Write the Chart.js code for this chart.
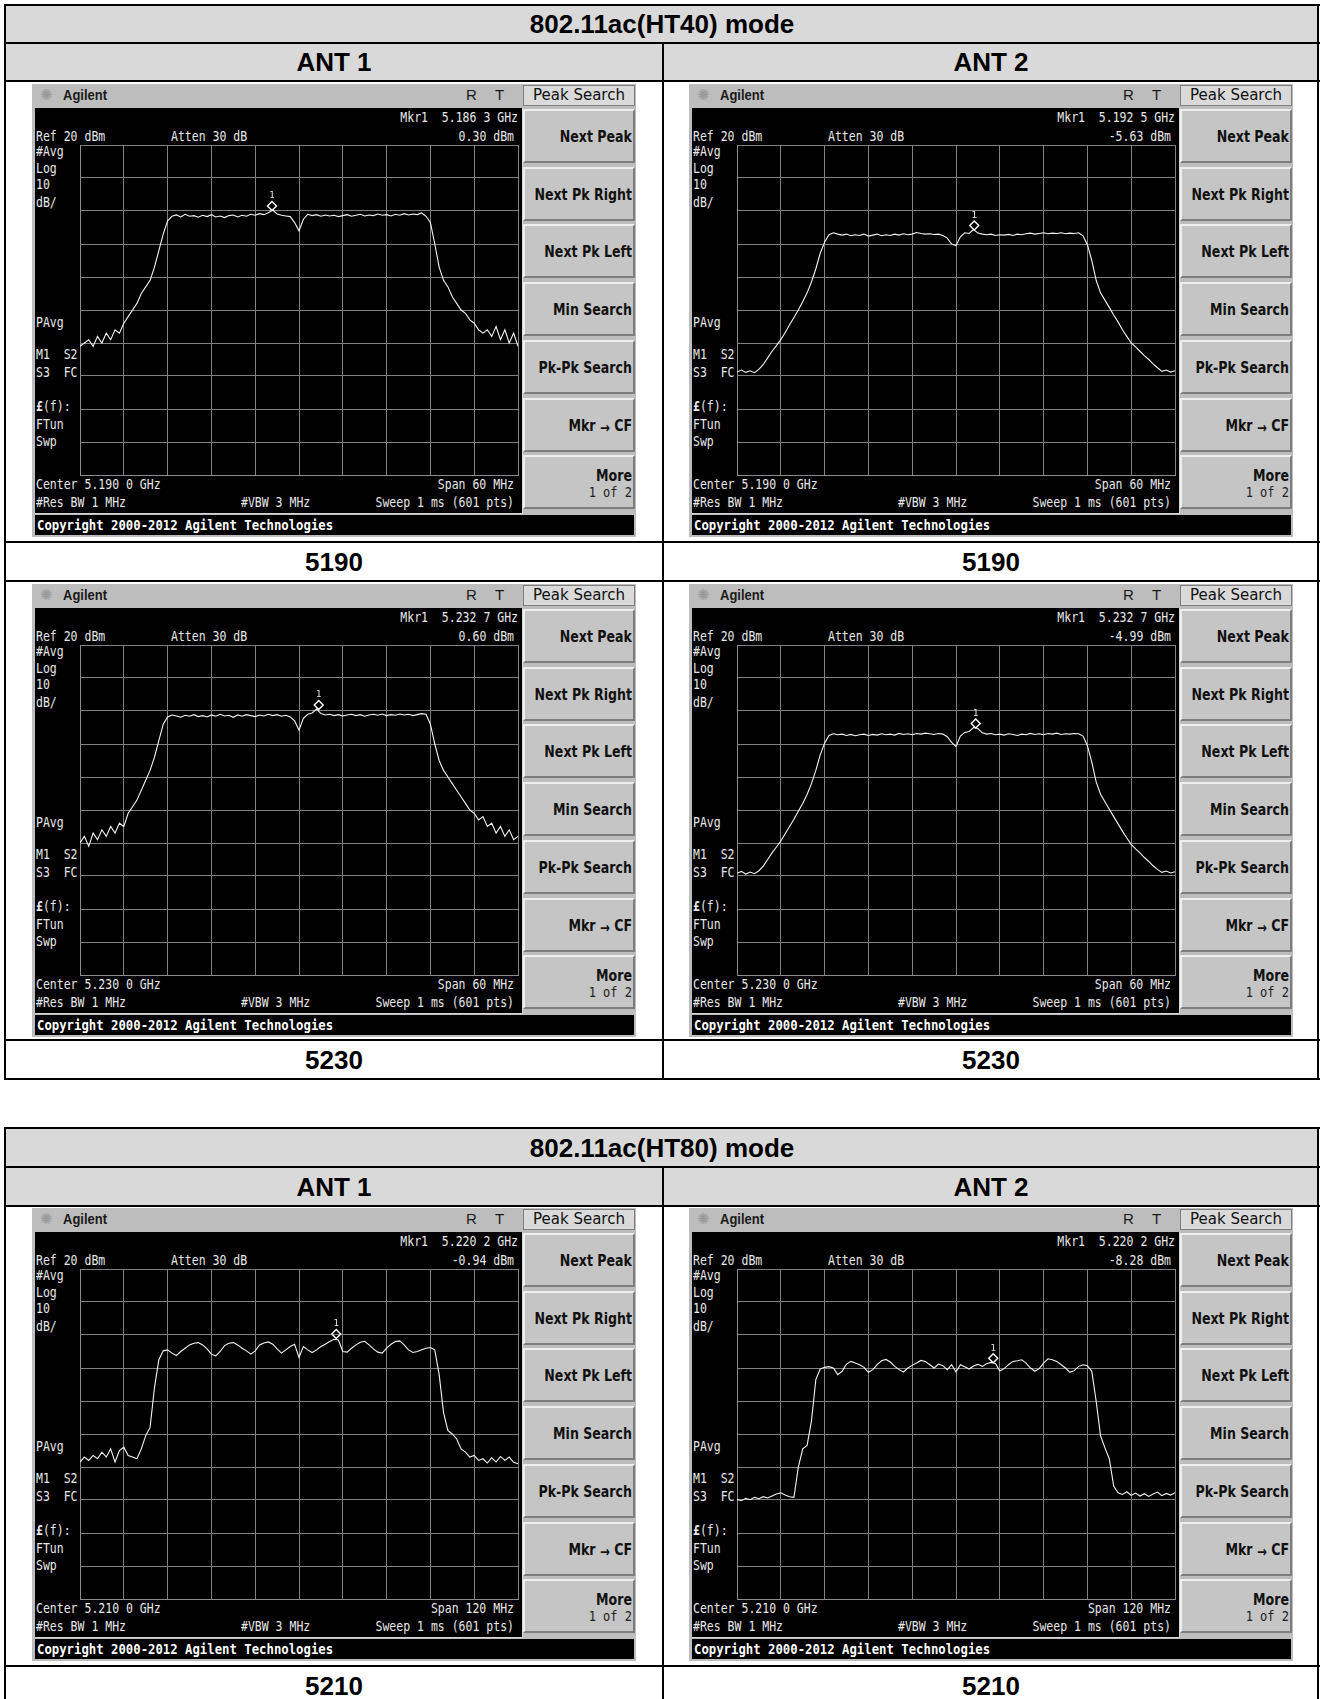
<!DOCTYPE html>
<html><head><meta charset="utf-8">
<script src="https://cdn.jsdelivr.net/npm/chart.js@4.4.1/dist/chart.umd.min.js"></script>
<style>
html,body{margin:0;padding:0;background:#fff;}
#page{position:relative;width:1320px;height:1699px;overflow:hidden;background:#fff;}
.ln{position:absolute;background:#000;}
.hdr{position:absolute;background:#d9d9d9;}
.cap{position:absolute;font:bold 26px "Liberation Sans",Arial,sans-serif;color:#000;text-align:center;line-height:30px;height:30px;white-space:nowrap;}
.shot{position:absolute;width:604px;height:453px;background:#bdbdbd;overflow:hidden;}
.scr{position:absolute;left:3px;top:24px;width:487px;height:405px;background:#000;border-right:1px solid #d6d6d6;border-bottom:1px solid #d6d6d6;}
.m{position:absolute;font:11.5px "DejaVu Sans Mono",monospace;color:#e8e8e8;white-space:pre;line-height:14px;height:14px;transform:scaleY(1.28);}
.ttl{position:absolute;font:bold 13px "Liberation Sans",Arial,sans-serif;color:#1a1a1a;line-height:14px;white-space:nowrap;transform:scaleY(1.1);}
.rt{position:absolute;font:15px "Liberation Sans",Arial,sans-serif;color:#1a1a1a;line-height:16px;}
.icon{position:absolute;font:15px "DejaVu Sans",sans-serif;color:#9a9a9a;line-height:16px;}
.pk{position:absolute;left:491px;top:1px;width:112px;height:21px;box-sizing:border-box;background:#dadada;border:1px solid #7e7e7e;font:15px "DejaVu Sans",sans-serif;color:#111;text-align:center;line-height:19px;white-space:nowrap;}
.sk{position:absolute;left:491px;width:112px;height:54px;box-sizing:border-box;background:#c5c5c5;border-top:2px solid #eeeeee;border-left:2px solid #eeeeee;border-bottom:2px solid #7d7d7d;border-right:2px solid #7d7d7d;}
.skt{position:absolute;right:1px;font:bold 14px "DejaVu Sans Condensed","DejaVu Sans",sans-serif;font-stretch:condensed;color:#111;white-space:nowrap;line-height:16px;transform:scaleY(1.15);transform-origin:right center;}
.sks{position:absolute;right:1px;font:12px "DejaVu Sans Mono",monospace;color:#222;white-space:nowrap;line-height:14px;transform:scaleY(1.15);}
.copy{position:absolute;left:3px;top:431px;width:599px;height:20px;background:#000;box-sizing:border-box;}
.copy span{position:absolute;left:2px;top:3px;color:#fff;font:bold 12.3px "DejaVu Sans Mono",monospace;line-height:14px;white-space:pre;transform:scaleY(1.2);}
canvas.cv{position:absolute;left:47px;top:60px;}
</style>
</head><body><div id="page"></div>
<script>
// ---------------- data ----------------
const MODE_TITLES = ["802.11ac(HT40) mode", "802.11ac(HT80) mode"];
const ANT_LABELS = ["ANT 1", "ANT 2"];
const ROW_LABELS = ["5190", "5230", "5210"];
const SOFTKEYS = ["Next Peak", "Next Pk Right", "Next Pk Left", "Min Search", "Pk-Pk Search", "Mkr → CF", "More"];

const CENTERS_MHZ = [5190, 5190, 5230, 5230, 5210, 5210];
const SPANS_MHZ = [60, 60, 60, 60, 120, 120];
const MARKER_FREQ_MHZ = [5186.3, 5192.5, 5232.7, 5232.7, 5220.2, 5220.2];
const MARKER_LEVEL_DBM = [0.30, -5.63, 0.60, -4.99, -0.94, -8.28];
const MARKER_FREQ_TEXT = ["5.186 3 GHz", "5.192 5 GHz", "5.232 7 GHz", "5.232 7 GHz", "5.220 2 GHz", "5.220 2 GHz"];
const MARKER_LEVEL_TEXT = ["0.30 dBm", "-5.63 dBm", "0.60 dBm", "-4.99 dBm", "-0.94 dBm", "-8.28 dBm"];
const CENTER_TEXT = ["Center 5.190 0 GHz", "Center 5.190 0 GHz", "Center 5.230 0 GHz", "Center 5.230 0 GHz", "Center 5.210 0 GHz", "Center 5.210 0 GHz"];
const SPAN_TEXT = ["Span 60 MHz", "Span 60 MHz", "Span 60 MHz", "Span 60 MHz", "Span 120 MHz", "Span 120 MHz"];
const REF_LEVEL_DBM = 20;
const DB_PER_DIV = 10;

// trace levels (dBm), 101 sweep points read across the 10 divisions
const TRACE_HT40_ANT1_5190 = [
 -41,-40,-39,-41,-38,-40,-37,-39,-36,-37,
 -34,-32,-30,-28,-25,-23,-21,-17,-12,-7,
 -3,-1.6,-1.2,-1.8,-1.0,-1.6,-1.4,-1.9,-1.3,-1.7,
 -1.1,-1.8,-1.5,-2.0,-1.4,-1.2,-1.8,-1.3,-1.6,-1.0,
 -1.3,-0.8,-1.1,-0.5,0.3,-0.9,-1.3,-1.5,-1.7,-3.5,
 -6.0,-2.5,-1.0,-1.4,-1.1,-1.6,-1.2,-1.5,-1.3,-1.7,
 -1.4,-1.1,-1.6,-1.3,-1.0,-1.5,-1.2,-1.4,-0.9,-1.3,
 -1.1,-1.5,-1.0,-1.3,-0.8,-1.2,-0.9,-1.1,-0.6,-1.6,
 -3.5,-10,-17,-21,-23,-26,-28,-30,-31,-33,
 -34,-36,-37,-36,-38,-35,-39,-36,-40,-37,
 -41];
const TRACE_HT40_ANT2_5190 = [
 -48.8,-48.2,-48.9,-48.4,-49.0,-48.0,-46.5,-44.5,-42.5,-40.8,
 -39.0,-36.8,-34.5,-32.3,-30.0,-27.5,-24.8,-21.5,-17.5,-12.8,
 -9.5,-7.2,-6.6,-7.0,-7.3,-7.0,-7.5,-7.2,-7.4,-7.0,
 -7.6,-7.3,-7.0,-7.5,-7.2,-7.4,-7.0,-7.3,-6.9,-7.2,
 -7.0,-6.5,-6.8,-7.0,-6.9,-7.1,-7.0,-7.4,-8.2,-10.0,
 -10.5,-7.8,-6.6,-6.8,-5.63,-6.7,-7.0,-7.2,-7.0,-7.4,
 -7.2,-7.3,-7.1,-7.4,-7.0,-7.2,-6.9,-6.7,-7.0,-6.8,
 -6.6,-6.9,-6.7,-6.8,-6.6,-6.9,-6.7,-6.8,-6.6,-7.5,
 -10.2,-15.0,-21.0,-24.8,-27.0,-29.2,-31.5,-33.6,-36.0,-38.0,
 -40.0,-41.2,-42.5,-43.8,-45.0,-46.3,-47.5,-48.6,-48.2,-48.8,
 -48.4];
const TRACE_HT40_ANT1_5230 = [
 -40,-38,-41,-37,-39,-36,-38,-35,-37,-34,
 -35,-31,-29,-27,-24,-21,-18,-14,-9,-4,
 -1.8,-1.2,-1.5,-1.9,-1.3,-1.6,-1.1,-1.7,-1.4,-1.8,
 -1.2,-1.6,-1.0,-1.5,-1.3,-1.9,-1.2,-1.6,-1.1,-1.4,
 -1.7,-1.2,-1.5,-1.0,-1.4,-1.1,-1.6,-1.3,-1.8,-3.0,
 -5.8,-2.2,-1.0,-0.6,0.6,-0.8,-1.2,-1.0,-1.4,-1.1,
 -1.5,-1.2,-1.0,-1.4,-1.1,-1.6,-1.2,-1.0,-1.3,-0.9,
 -1.4,-1.1,-1.3,-0.9,-1.2,-1.0,-1.4,-1.1,-0.8,-1.0,
 -4.0,-10,-15,-18,-20,-22,-24,-26,-28,-30,
 -31,-33,-32,-35,-34,-37,-35,-38,-36,-39,
 -38];
const TRACE_HT40_ANT2_5230 = [
 -49.2,-48.6,-49.4,-48.8,-49.3,-48.4,-47.0,-45.0,-43.0,-41.2,
 -39.4,-37.2,-35.0,-32.8,-30.4,-28.0,-25.3,-22.0,-18.0,-13.3,
 -9.8,-7.4,-6.9,-7.2,-7.0,-7.4,-7.1,-7.5,-7.2,-7.0,
 -7.4,-7.1,-7.3,-6.9,-7.2,-7.0,-7.3,-6.8,-7.1,-6.9,
 -7.2,-6.8,-7.0,-6.7,-6.9,-7.1,-6.8,-7.0,-7.8,-9.5,
 -10.8,-7.6,-6.5,-6.2,-5.0,-5.3,-6.6,-7.0,-6.8,-7.2,
 -7.0,-7.3,-6.9,-7.1,-7.4,-7.0,-7.2,-6.8,-7.1,-6.9,
 -7.2,-6.8,-7.0,-6.7,-7.1,-6.9,-7.0,-6.8,-6.9,-7.6,
 -10.5,-15.5,-21.5,-25.2,-27.5,-29.8,-32.0,-34.2,-36.4,-38.5,
 -40.4,-41.8,-43.0,-44.4,-45.6,-46.9,-48.0,-48.9,-48.5,-49.1,
 -48.7];
const TRACE_HT80_ANT1_5210 = [
 -38.5,-37.0,-38.0,-36.5,-37.5,-35.5,-37.0,-34.5,-38.5,-35.0,
 -34.0,-36.5,-37.0,-37.5,-34.5,-30.5,-28.0,-16.0,-7.5,-4.8,
 -4.5,-5.5,-6.2,-5.0,-4.0,-3.0,-2.5,-2.3,-3.0,-4.2,
 -5.8,-6.3,-5.0,-3.2,-2.5,-2.3,-3.0,-4.0,-4.8,-5.8,
 -4.8,-3.0,-2.4,-2.1,-2.8,-4.2,-5.5,-4.5,-3.5,-2.8,
 -6.8,-3.5,-4.5,-5.3,-4.5,-3.5,-2.8,-2.0,-1.3,-1.5,
 -5.0,-5.2,-4.0,-3.0,-2.2,-1.9,-3.0,-4.2,-5.2,-5.5,
 -4.0,-2.8,-2.0,-1.8,-3.0,-4.5,-5.3,-5.0,-4.5,-4.0,
 -3.8,-4.5,-12.0,-23.5,-29.0,-30.0,-31.5,-34.5,-35.5,-37.0,
 -36.5,-38.0,-37.5,-38.8,-37.2,-38.5,-36.8,-38.0,-37.0,-38.6,
 -39.0];
const TRACE_HT80_ANT2_5210 = [
 -49.8,-50.2,-49.5,-49.9,-49.2,-49.6,-49.0,-49.4,-48.8,-48.2,
 -47.8,-48.5,-49.0,-49.2,-40.0,-34.5,-33.5,-26.0,-13.5,-10.3,
 -9.8,-9.6,-10.0,-12.0,-11.0,-8.8,-8.0,-8.5,-9.0,-9.8,
 -11.3,-10.5,-9.0,-7.8,-7.4,-8.2,-9.5,-10.5,-11.2,-10.0,
 -9.2,-8.5,-7.7,-8.0,-9.0,-10.0,-8.8,-9.3,-10.5,-9.0,
 -11.2,-9.0,-9.6,-10.3,-9.4,-8.9,-9.5,-8.7,-8.3,-8.6,
 -10.9,-10.2,-9.0,-8.0,-7.8,-7.5,-8.5,-10.0,-11.0,-10.2,
 -8.5,-7.2,-7.5,-8.0,-9.0,-10.0,-11.3,-10.8,-9.5,-9.0,
 -9.3,-11.0,-20.0,-30.5,-34.2,-37.5,-45.8,-47.8,-48.3,-47.5,
 -48.6,-47.9,-48.8,-48.1,-48.9,-48.2,-47.6,-48.7,-48.0,-48.5,
 -47.8];
const TRACES = [TRACE_HT40_ANT1_5190, TRACE_HT40_ANT2_5190, TRACE_HT40_ANT1_5230,
                TRACE_HT40_ANT2_5230, TRACE_HT80_ANT1_5210, TRACE_HT80_ANT2_5210];

// ---------------- layout ----------------
const page = document.getElementById('page');
function el(cls, css, txt, parent){
  const d = document.createElement('div');
  if (cls) d.className = cls;
  Object.assign(d.style, css);
  if (txt !== undefined) d.textContent = txt;
  (parent || page).appendChild(d);
  return d;
}
function px(v){ return v + 'px'; }
function hline(x1, x2, y){ el('ln', {left:px(x1), top:px(y-1), width:px(x2-x1), height:'2px'}); }
function vline(x, y1, y2){ el('ln', {left:px(x-1), top:px(y1), width:'2px', height:px(y2-y1)}); }
function cap(text, cx, cy, w){ el('cap', {left:px(cx - w/2), top:px(cy - 15), width:px(w)}, text); }

// Table 1
el('hdr', {left:'5px', top:'5px', width:'1313px', height:'76px'});
[5, 43, 81, 542, 581, 1040, 1079].forEach(y => hline(4, 1320, y));
vline(5, 4, 1080); vline(1318, 4, 1080); vline(663, 43, 1080);
cap(MODE_TITLES[0], 662, 24, 600);
cap(ANT_LABELS[0], 334, 62, 300); cap(ANT_LABELS[1], 991, 62, 300);
cap(ROW_LABELS[0], 334, 561.5, 300); cap(ROW_LABELS[0], 991, 561.5, 300);
cap(ROW_LABELS[1], 334, 1059.5, 300); cap(ROW_LABELS[1], 991, 1059.5, 300);
// Table 2
el('hdr', {left:'5px', top:'1128px', width:'1313px', height:'78px'});
[1128, 1167, 1206, 1666].forEach(y => hline(4, 1320, y));
vline(5, 1127, 1699); vline(1318, 1127, 1699); vline(663, 1167, 1699);
cap(MODE_TITLES[1], 662, 1147.5, 600);
cap(ANT_LABELS[0], 334, 1186.5, 300); cap(ANT_LABELS[1], 991, 1186.5, 300);
cap(ROW_LABELS[2], 334, 1685.5, 300); cap(ROW_LABELS[2], 991, 1685.5, 300);

const ORIGINS = [[32,84],[689,84],[32,584],[689,584],[32,1208],[689,1208]];

const markerPlugin = {
  id: 'mkr',
  afterDatasetsDraw(chart, args, opts){
    const xs = chart.scales.x, ys = chart.scales.y;
    const x = xs.getPixelForValue(opts.f), y = ys.getPixelForValue(opts.v) - 4;
    const c = chart.ctx;
    c.save();
    c.strokeStyle = '#ffffff'; c.lineWidth = 1.4;
    c.beginPath();
    c.moveTo(x, y - 4.5); c.lineTo(x + 4.5, y); c.lineTo(x, y + 4.5); c.lineTo(x - 4.5, y); c.closePath();
    c.stroke();
    c.fillStyle = '#e8e8e8'; c.font = '9px "DejaVu Sans Mono", monospace';
    c.textAlign = 'center'; c.textBaseline = 'middle';
    c.fillText('1', x, y - 10);
    c.restore();
  }
};

function mono(parent, text, left, cy, right){
  const css = {top: px(cy - 7)};
  if (right !== undefined) css.right = px(604 - right); else css.left = px(left);
  return el('m', css, text, parent);
}

function buildShot(i){
  const [ox, oy] = ORIGINS[i];
  const s = el('shot', {left:px(ox), top:px(oy)});
  el('icon', {left:'8px', top:'3px'}, '✺', s);
  el('ttl', {left:'31px', top:'5px'}, 'Agilent', s);
  el('rt', {left:'434px', top:'3px'}, 'R', s);
  el('rt', {left:'463px', top:'3px'}, 'T', s);
  el('pk', {}, 'Peak Search', s);
  el('scr', {}, undefined, s);
  SOFTKEYS.forEach((k, j) => {
    const top = 25 + j * 57.7;
    const key = el('sk', {top:px(top)}, undefined, s);
    if (k === 'More') {
      el('skt', {top:'10px'}, 'More', key);
      el('sks', {top:'28px'}, '1 of 2', key);
    } else if (k.indexOf('→') >= 0) {
      const t = el('skt', {top:'17px'}, '', key);
      t.innerHTML = 'Mkr <span style="font-size:13px;position:relative;top:2px">→</span> CF';
    } else {
      el('skt', {top:'17px'}, k, key);
    }
  });
  const cp = el('copy', {}, undefined, s);
  const cps = document.createElement('span');
  cps.textContent = 'Copyright 2000-2012 Agilent Technologies';
  cp.appendChild(cps);
  // screen annotations
  mono(s, 'Mkr1  ' + MARKER_FREQ_TEXT[i], 0, 33, 486);
  mono(s, 'Ref 20 dBm', 4, 51.5);
  mono(s, 'Atten 30 dB', 139, 51.5);
  mono(s, MARKER_LEVEL_TEXT[i], 0, 51.5, 482);
  mono(s, '#Avg', 4, 66.6);
  mono(s, 'Log', 4, 84);
  mono(s, '10', 4, 100);
  mono(s, 'dB/', 4, 117.6);
  mono(s, 'PAvg', 4, 238);
  mono(s, 'M1  S2', 4, 270.4);
  mono(s, 'S3  FC', 4, 287.7);
  const lf = mono(s, '', 4, 322); lf.innerHTML = '<b>£</b>(f):';
  mono(s, 'FTun', 4, 339.7);
  mono(s, 'Swp', 4, 357);
  mono(s, CENTER_TEXT[i], 4, 400.4);
  mono(s, SPAN_TEXT[i], 0, 400.4, 482);
  mono(s, '#Res BW 1 MHz', 4, 417.8);
  mono(s, '#VBW 3 MHz', 209, 417.8);
  mono(s, 'Sweep 1 ms (601 pts)', 0, 417.8, 482);

  const cv = document.createElement('canvas');
  cv.className = 'cv'; cv.width = 440; cv.height = 332;
  cv.style.width = '440px'; cv.style.height = '332px';
  s.appendChild(cv);

  const center = CENTERS_MHZ[i], span = SPANS_MHZ[i], tr = TRACES[i];
  const lo = center - span / 2, hi = center + span / 2;
  const pts = tr.map((v, k) => ({x: lo + span * k / (tr.length - 1), y: v}));
  const gridCss = {color:'#808080', lineWidth:1, drawTicks:false};
  new Chart(cv, {
    type: 'line',
    data: {datasets: [{data: pts, borderColor:'#f4f4f4', borderWidth:1.1, pointRadius:0, tension:0, fill:false}]},
    options: {
      responsive:false, animation:false, devicePixelRatio:1,
      layout:{padding:1},
      plugins:{legend:{display:false}, tooltip:{enabled:false}, mkr:{f:MARKER_FREQ_MHZ[i], v:MARKER_LEVEL_DBM[i]}},
      scales:{
        x:{type:'linear', min:lo, max:hi, ticks:{display:false, stepSize:span/10}, grid:gridCss, border:{color:'#8c8c8c'}},
        y:{type:'linear', min:REF_LEVEL_DBM - 10*DB_PER_DIV, max:REF_LEVEL_DBM, ticks:{display:false, stepSize:DB_PER_DIV}, grid:gridCss, border:{color:'#8c8c8c'}}
      }
    },
    plugins:[markerPlugin]
  });
}
for (let i = 0; i < 6; i++) buildShot(i);
</script>
</body></html>
